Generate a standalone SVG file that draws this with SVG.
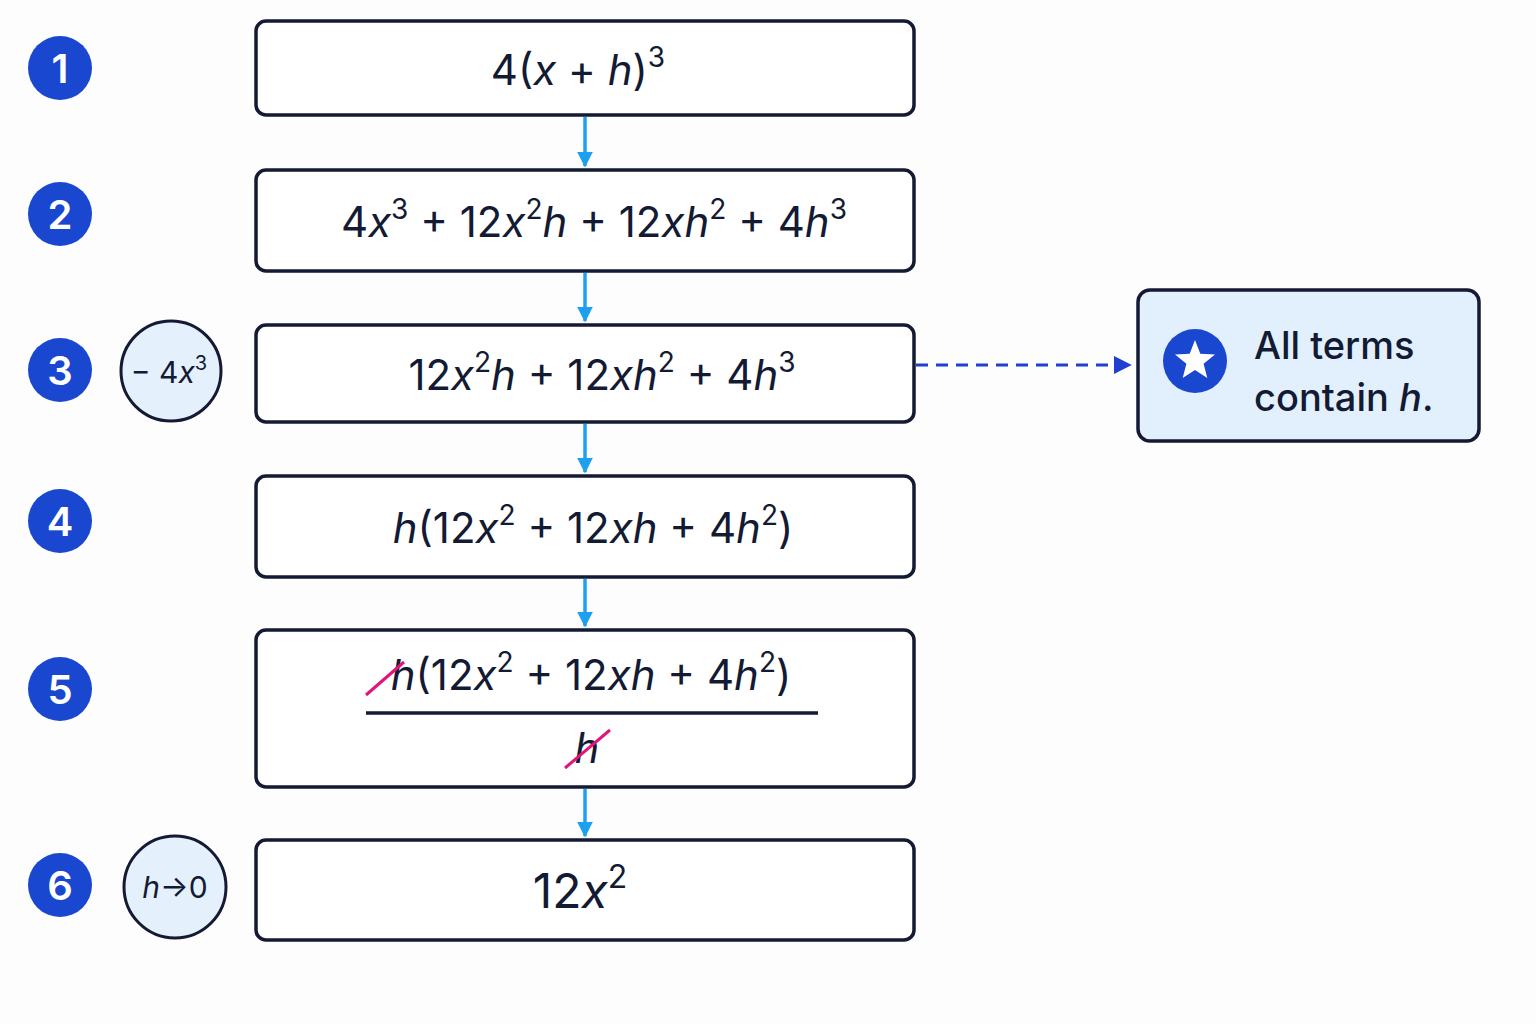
<svg xmlns="http://www.w3.org/2000/svg" width="1536" height="1024" viewBox="0 0 1536 1024">
<defs>
<style>
.box{fill:#fff;stroke:#141a33;stroke-width:3.5}
.badge{fill:#1a47d0}
.bt{font-family:Inter,"Liberation Sans",sans-serif;font-size:40px;font-weight:600;fill:#fff;text-anchor:middle}
.m{font-family:Inter,"Liberation Sans",sans-serif;font-size:42px;fill:#131a33;text-anchor:middle}
.i{font-style:italic}
.conn{stroke:#1ea0f0;stroke-width:3.5;fill:none}
.op{fill:#e4f0fc;stroke:#141a33;stroke-width:3}
.strike{stroke:#e0157a;stroke-width:3}
</style>
<marker id="ah" viewBox="0 0 10 10" refX="9" refY="5" markerWidth="4.5" markerHeight="4.5" orient="auto" markerUnits="strokeWidth"><path d="M0,0 L10,5 L0,10 Z" fill="#1ea0f0"/></marker>
<marker id="ahd" viewBox="0 0 10 10" refX="9" refY="5" markerWidth="6" markerHeight="6" orient="auto" markerUnits="strokeWidth"><path d="M0,0 L10,5 L0,10 Z" fill="#1f3fd0"/></marker>
</defs>
<rect width="1536" height="1024" fill="#fdfdfe"/>
<g id="connectors">
<line class="conn" x1="585" y1="117" x2="585" y2="166" marker-end="url(#ah)"/>
<line class="conn" x1="585" y1="273" x2="585" y2="321" marker-end="url(#ah)"/>
<line class="conn" x1="585" y1="424" x2="585" y2="472" marker-end="url(#ah)"/>
<line class="conn" x1="585" y1="579" x2="585" y2="626" marker-end="url(#ah)"/>
<line class="conn" x1="585" y1="789" x2="585" y2="836" marker-end="url(#ah)"/>
<line x1="916" y1="365" x2="1130" y2="365" stroke="#1f3fd0" stroke-width="3" stroke-dasharray="12 8" marker-end="url(#ahd)"/>
</g>
<g id="badges">
<circle class="badge" cx="60" cy="68" r="32"/><text class="bt" x="60" y="83">1</text>
<circle class="badge" cx="60" cy="214" r="32"/><text class="bt" x="60" y="229">2</text>
<circle class="badge" cx="60" cy="370" r="32"/><text class="bt" x="60" y="385">3</text>
<circle class="badge" cx="60" cy="521" r="32"/><text class="bt" x="60" y="536">4</text>
<circle class="badge" cx="60" cy="689" r="32"/><text class="bt" x="60" y="704">5</text>
<circle class="badge" cx="60" cy="885" r="32"/><text class="bt" x="60" y="900">6</text>
</g>
<g id="op3">
<circle class="op" cx="171" cy="371" r="50"/>
<text class="m" x="169" y="383" style="font-size:30px">− 4<tspan class="i">x</tspan><tspan dy="-13" font-size="20">3</tspan></text>
</g>
<g id="op6">
<circle class="op" cx="175" cy="887" r="51"/>
<text class="m" x="175" y="898" style="font-size:30px"><tspan class="i">h</tspan>→0</text>
</g>
<g id="step1">
<rect class="box" x="256" y="21" width="658" height="94" rx="10"/>
<text class="m" x="578" y="85">4(<tspan class="i">x</tspan> + <tspan class="i">h</tspan>)<tspan dy="-18" font-size="28">3</tspan></text>
</g>
<g id="step2">
<rect class="box" x="256" y="170" width="658" height="101" rx="10"/>
<text class="m" x="594" y="237">4<tspan class="i">x</tspan><tspan dy="-18" font-size="28">3</tspan><tspan dy="18"> + 12</tspan><tspan class="i">x</tspan><tspan dy="-18" font-size="28">2</tspan><tspan dy="18" class="i">h</tspan> + 12<tspan class="i">xh</tspan><tspan dy="-18" font-size="28">2</tspan><tspan dy="18"> + 4</tspan><tspan class="i">h</tspan><tspan dy="-18" font-size="28">3</tspan></text>
</g>
<g id="step3">
<rect class="box" x="256" y="325" width="658" height="97" rx="10"/>
<text class="m" x="602" y="390">12<tspan class="i">x</tspan><tspan dy="-18" font-size="28">2</tspan><tspan dy="18" class="i">h</tspan> + 12<tspan class="i">xh</tspan><tspan dy="-18" font-size="28">2</tspan><tspan dy="18"> + 4</tspan><tspan class="i">h</tspan><tspan dy="-18" font-size="28">3</tspan></text>
</g>
<g id="step4">
<rect class="box" x="256" y="476" width="658" height="101" rx="10"/>
<text class="m" x="593" y="543"><tspan class="i">h</tspan>(12<tspan class="i">x</tspan><tspan dy="-18" font-size="28">2</tspan><tspan dy="18"> + 12</tspan><tspan class="i">xh</tspan> + 4<tspan class="i">h</tspan><tspan dy="-18" font-size="28">2</tspan><tspan dy="18">)</tspan></text>
</g>
<g id="step5">
<rect class="box" x="256" y="630" width="658" height="157" rx="10"/>
<text class="m" x="591" y="690"><tspan class="i">h</tspan>(12<tspan class="i">x</tspan><tspan dy="-18" font-size="28">2</tspan><tspan dy="18"> + 12</tspan><tspan class="i">xh</tspan> + 4<tspan class="i">h</tspan><tspan dy="-18" font-size="28">2</tspan><tspan dy="18">)</tspan></text>
<line x1="366" y1="713" x2="818" y2="713" stroke="#141a33" stroke-width="3.5"/>
<text class="m i" x="587" y="763">h</text>
<line class="strike" x1="366" y1="695" x2="404" y2="662"/>
<line class="strike" x1="565" y1="768" x2="610" y2="730"/>
</g>
<g id="step6">
<rect class="box" x="256" y="840" width="658" height="100" rx="10"/>
<text class="m" x="580" y="908" style="font-size:48px">12<tspan class="i">x</tspan><tspan dy="-20" font-size="32">2</tspan></text>
</g>
<g id="note">
<rect x="1138" y="290" width="341" height="151" rx="12" fill="#e2effc" stroke="#141a33" stroke-width="3.5"/>
<circle cx="1195" cy="361" r="32" fill="#1a47d0"/>
<polygon fill="#fff" points="1195,340 1200.3,353.7 1215,354.5 1203.6,363.8 1207.3,378 1195,370 1182.7,378 1186.4,363.8 1175,354.5 1189.7,353.7"/>
<text x="1254" y="359" font-family="Inter,'Liberation Sans',sans-serif" font-size="38" font-weight="500" fill="#131a33">All terms</text>
<text x="1254" y="411" font-family="Inter,'Liberation Sans',sans-serif" font-size="38" font-weight="500" fill="#131a33">contain <tspan font-style="italic">h</tspan>.</text>
</g>
</svg>
